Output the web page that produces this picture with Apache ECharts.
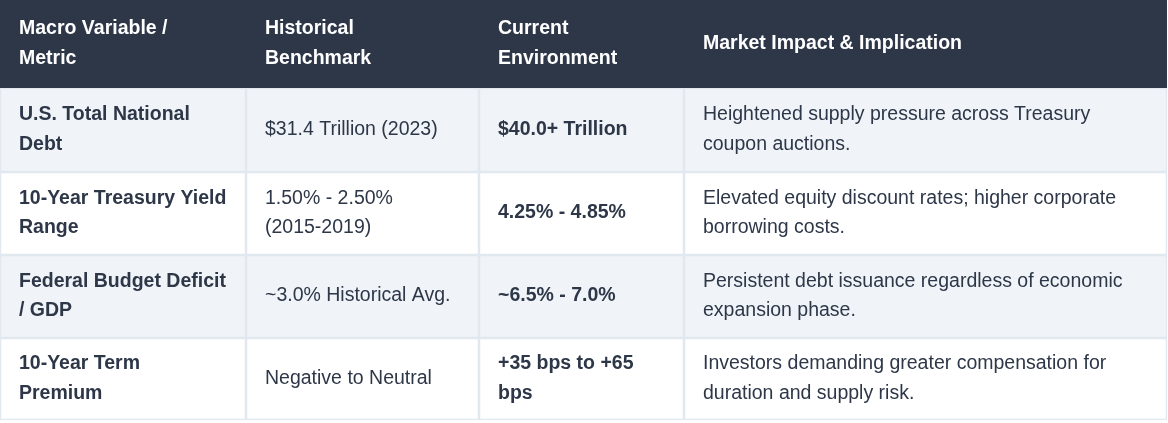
<!DOCTYPE html>
<html>
<head>
<meta charset="utf-8">
<script src="https://cdn.jsdelivr.net/npm/echarts@6/dist/echarts.min.js"></script>
<style>
  html, body { margin: 0; padding: 0; background: #ffffff; }
  #chart { width: 1168px; height: 423px; }
</style>
</head>
<body>
<div id="chart"></div>
<script>
// datos de la tabla
const headers = ['Macro Variable /\nMetric', 'Historical\nBenchmark', 'Current\nEnvironment', 'Market Impact & Implication'];
const metrics = ['U.S. Total National\nDebt', '10-Year Treasury Yield\nRange', 'Federal Budget Deficit\n/ GDP', '10-Year Term\nPremium'];
const historical = ['$31.4 Trillion (2023)', '1.50% - 2.50%\n(2015-2019)', '~3.0% Historical Avg.', 'Negative to Neutral'];
const current = ['$40.0+ Trillion', '4.25% - 4.85%', '~6.5% - 7.0%', '+35 bps to +65\nbps'];
const implications = [
  'Heightened supply pressure across Treasury\ncoupon auctions.',
  'Elevated equity discount rates; higher corporate\nborrowing costs.',
  'Persistent debt issuance regardless of economic\nexpansion phase.',
  'Investors demanding greater compensation for\nduration and supply risk.'
];

// layout (pixels)
const colEdges = [0, 246, 479, 684, 1167];
const rowEdges = [0, 88, 172, 255, 338, 420];
const boldCols = [true, false, true, false];

const columns = [metrics, historical, current, implications];
const data = [];
headers.forEach((h, c) => data.push({ value: [c, 0], text: h }));
for (let r = 0; r < metrics.length; r++) {
  columns.forEach((col, c) => data.push({ value: [c, r + 1], text: col[r] }));
}

const chart = echarts.init(document.getElementById('chart'), null, { renderer: 'canvas' });

function renderItem(params, api) {
  const c = api.value(0);
  const r = api.value(1);
  const item = data[params.dataIndex];
  const p0 = api.coord([colEdges[c], rowEdges[r]]);
  const p1 = api.coord([colEdges[c + 1], rowEdges[r + 1]]);
  const isHeader = r === 0;
  const fill = isHeader ? '#2d3748' : (r % 2 === 1 ? '#f0f4f8' : '#ffffff');
  const bold = isHeader || boldCols[c];
  const children = [
    {
      type: 'rect',
      shape: { x: p0[0], y: p0[1], width: p1[0] - p0[0], height: p1[1] - p0[1] },
      style: { fill: fill }
    }
  ];
  if (!isHeader) {
    children.push({
      type: 'rect',
      shape: { x: p0[0] + 0.6, y: p0[1] + 0.6, width: p1[0] - p0[0] - 1.2, height: p1[1] - p0[1] - 1.2 },
      style: { fill: 'none', stroke: '#e2e8f0', lineWidth: 1.3 }
    });
  }
  children.push({
    type: 'text',
    style: {
      text: item.text,
      x: p0[0] + 19,
      y: (p0[1] + p1[1]) / 2 - 0.5,
      verticalAlign: 'middle',
      align: 'left',
      fill: isHeader ? '#ffffff' : '#2d3748',
      font: (bold ? 'bold ' : '') + '19.5px "Liberation Sans", Arial, sans-serif',
      lineHeight: 29.5
    }
  });
  return { type: 'group', children: children };
}

const option = {
  animation: false,
  grid: { left: 0, right: 0, top: 0, bottom: 0 },
  xAxis: { type: 'value', min: 0, max: 1168, show: false },
  yAxis: { type: 'value', min: 0, max: 423, inverse: true, show: false },
  series: [
    {
      type: 'custom',
      renderItem: renderItem,
      data: data,
      clip: false
    }
  ]
};
chart.setOption(option);
</script>
</body>
</html>
